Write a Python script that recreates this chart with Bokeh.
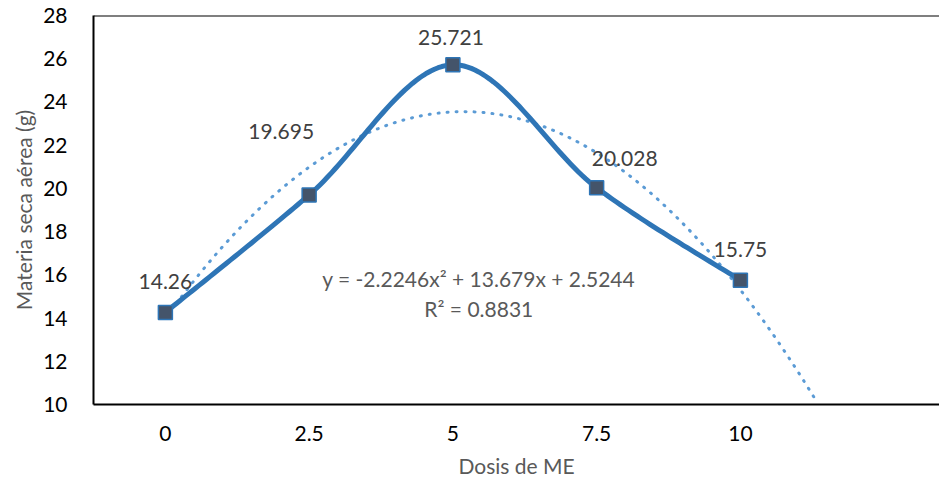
import numpy as np
from bokeh.plotting import figure
from bokeh.models import ColumnDataSource, FixedTicker, Label, Span, Range1d
from bokeh.core.properties import value
from bokeh.embed import file_html
from bokeh.resources import INLINE

# ---- data ----
categories = ["0", "2.5", "5", "7.5", "10"]
materia_seca = [14.26, 19.695, 25.721, 20.028, 15.75]
trend_coef = [-2.2246, 13.679, 2.5244]   # y = a x^2 + b x + c (x = category index 1..n)
r_squared = 0.8831
y_ticks = [10, 12, 14, 16, 18, 20, 22, 24, 26, 28]

# ---- styles ----
FONT = "Lato"
label_dx = [0, -28, -2, 28, 0]
label_dy = [-31, -63, -27, -29, -31]

xs = np.arange(1, len(categories) + 1, dtype=float)
ys = np.array(materia_seca, dtype=float)

# Excel-like smoothed line (Catmull-Rom / Bezier)
P = np.column_stack([xs, ys])
sx, sy = [], []
n = len(P)
for i in range(n - 1):
    p0 = P[i - 1] if i > 0 else P[i]
    p1 = P[i]
    p2 = P[i + 1]
    p3 = P[i + 2] if i + 2 < n else P[i + 1]
    c1 = p1 + (p2 - p0) / 6.0
    c2 = p2 - (p3 - p1) / 6.0
    t = np.linspace(0, 1, 40)[:, None]
    b = ((1 - t) ** 3) * p1 + 3 * ((1 - t) ** 2) * t * c1 + 3 * (1 - t) * t ** 2 * c2 + t ** 3 * p2
    sx.extend(b[:, 0].tolist())
    sy.extend(b[:, 1].tolist())

# trendline (polynomial order 2, forecast forward)
X_END = 6.385
a, b_, c = trend_coef
tx = np.linspace(1, X_END, 300)
ty = a * tx ** 2 + b_ * tx + c
mask = ty >= 9.9
tx, ty = tx[mask], ty[mask]

p = figure(width=939, height=480, output_backend="svg", toolbar_location=None,
           x_range=Range1d(0.5, X_END), y_range=Range1d(10, 28),
           min_border_left=93, min_border_right=0, min_border_top=15, min_border_bottom=75)
p.outline_line_color = None
p.xgrid.visible = False
p.ygrid.visible = False
p.background_fill_color = "white"
p.border_fill_color = "white"

# trendline
p.line(tx, ty, line_color="#5B9BD5", line_width=3, line_dash="1 8", line_cap="round")
# smoothed series line
p.line(sx, sy, line_color="#2E75B6", line_width=5, line_join="round")
# markers
p.scatter(xs, ys, marker="square", size=14, fill_color="#44546A", line_color="#2E75B6", line_width=1.5)

# data labels
src = ColumnDataSource(dict(x=xs, y=ys, t=[str(v) for v in materia_seca], dx=label_dx, dy=label_dy))
p.text(x="x", y="y", text="t", x_offset="dx", y_offset="dy", source=src,
       text_font=value(FONT), text_font_size="21px", text_color="#404040",
       text_align="center", text_baseline="middle")

# equation
eq = f"y = {a}x² + {b_}x + {c}"
p.add_layout(Label(x=3.18, y=15.82, text=eq, text_font=FONT, text_font_size="21px",
                   text_color="#595959", text_align="center", text_baseline="middle"))
p.add_layout(Label(x=3.18, y=14.43, text=f"R² = {r_squared}", text_font=FONT, text_font_size="21px",
                   text_color="#595959", text_align="center", text_baseline="middle"))

# top border
p.add_layout(Span(location=28, dimension="width", line_color="black", line_width=2))

# axes
p.xaxis.ticker = FixedTicker(ticks=xs.tolist())
p.xaxis.major_label_overrides = {float(x): lab for x, lab in zip(xs, categories)}
p.yaxis.ticker = FixedTicker(ticks=y_ticks)
for ax in (p.xaxis[0], p.yaxis[0]):
    ax.axis_line_color = "black"
    ax.axis_line_width = 2
    ax.major_tick_line_color = None
    ax.minor_tick_line_color = None
    ax.major_label_text_font = FONT
    ax.major_label_text_font_size = "21px"
    ax.major_label_text_color = "black"
    ax.axis_label_text_font = FONT
    ax.axis_label_text_font_size = "21px"
    ax.axis_label_text_font_style = "normal"
    ax.axis_label_text_color = "#595959"
p.xaxis.axis_label = "Dosis de ME"
p.yaxis.axis_label = "Materia seca aérea (g)"
p.xaxis.major_label_standoff = 15
p.yaxis.major_label_standoff = 20
p.xaxis.axis_label_standoff = 9
p.yaxis.axis_label_standoff = 4

open("out.html", "w").write(file_html(p, INLINE))
